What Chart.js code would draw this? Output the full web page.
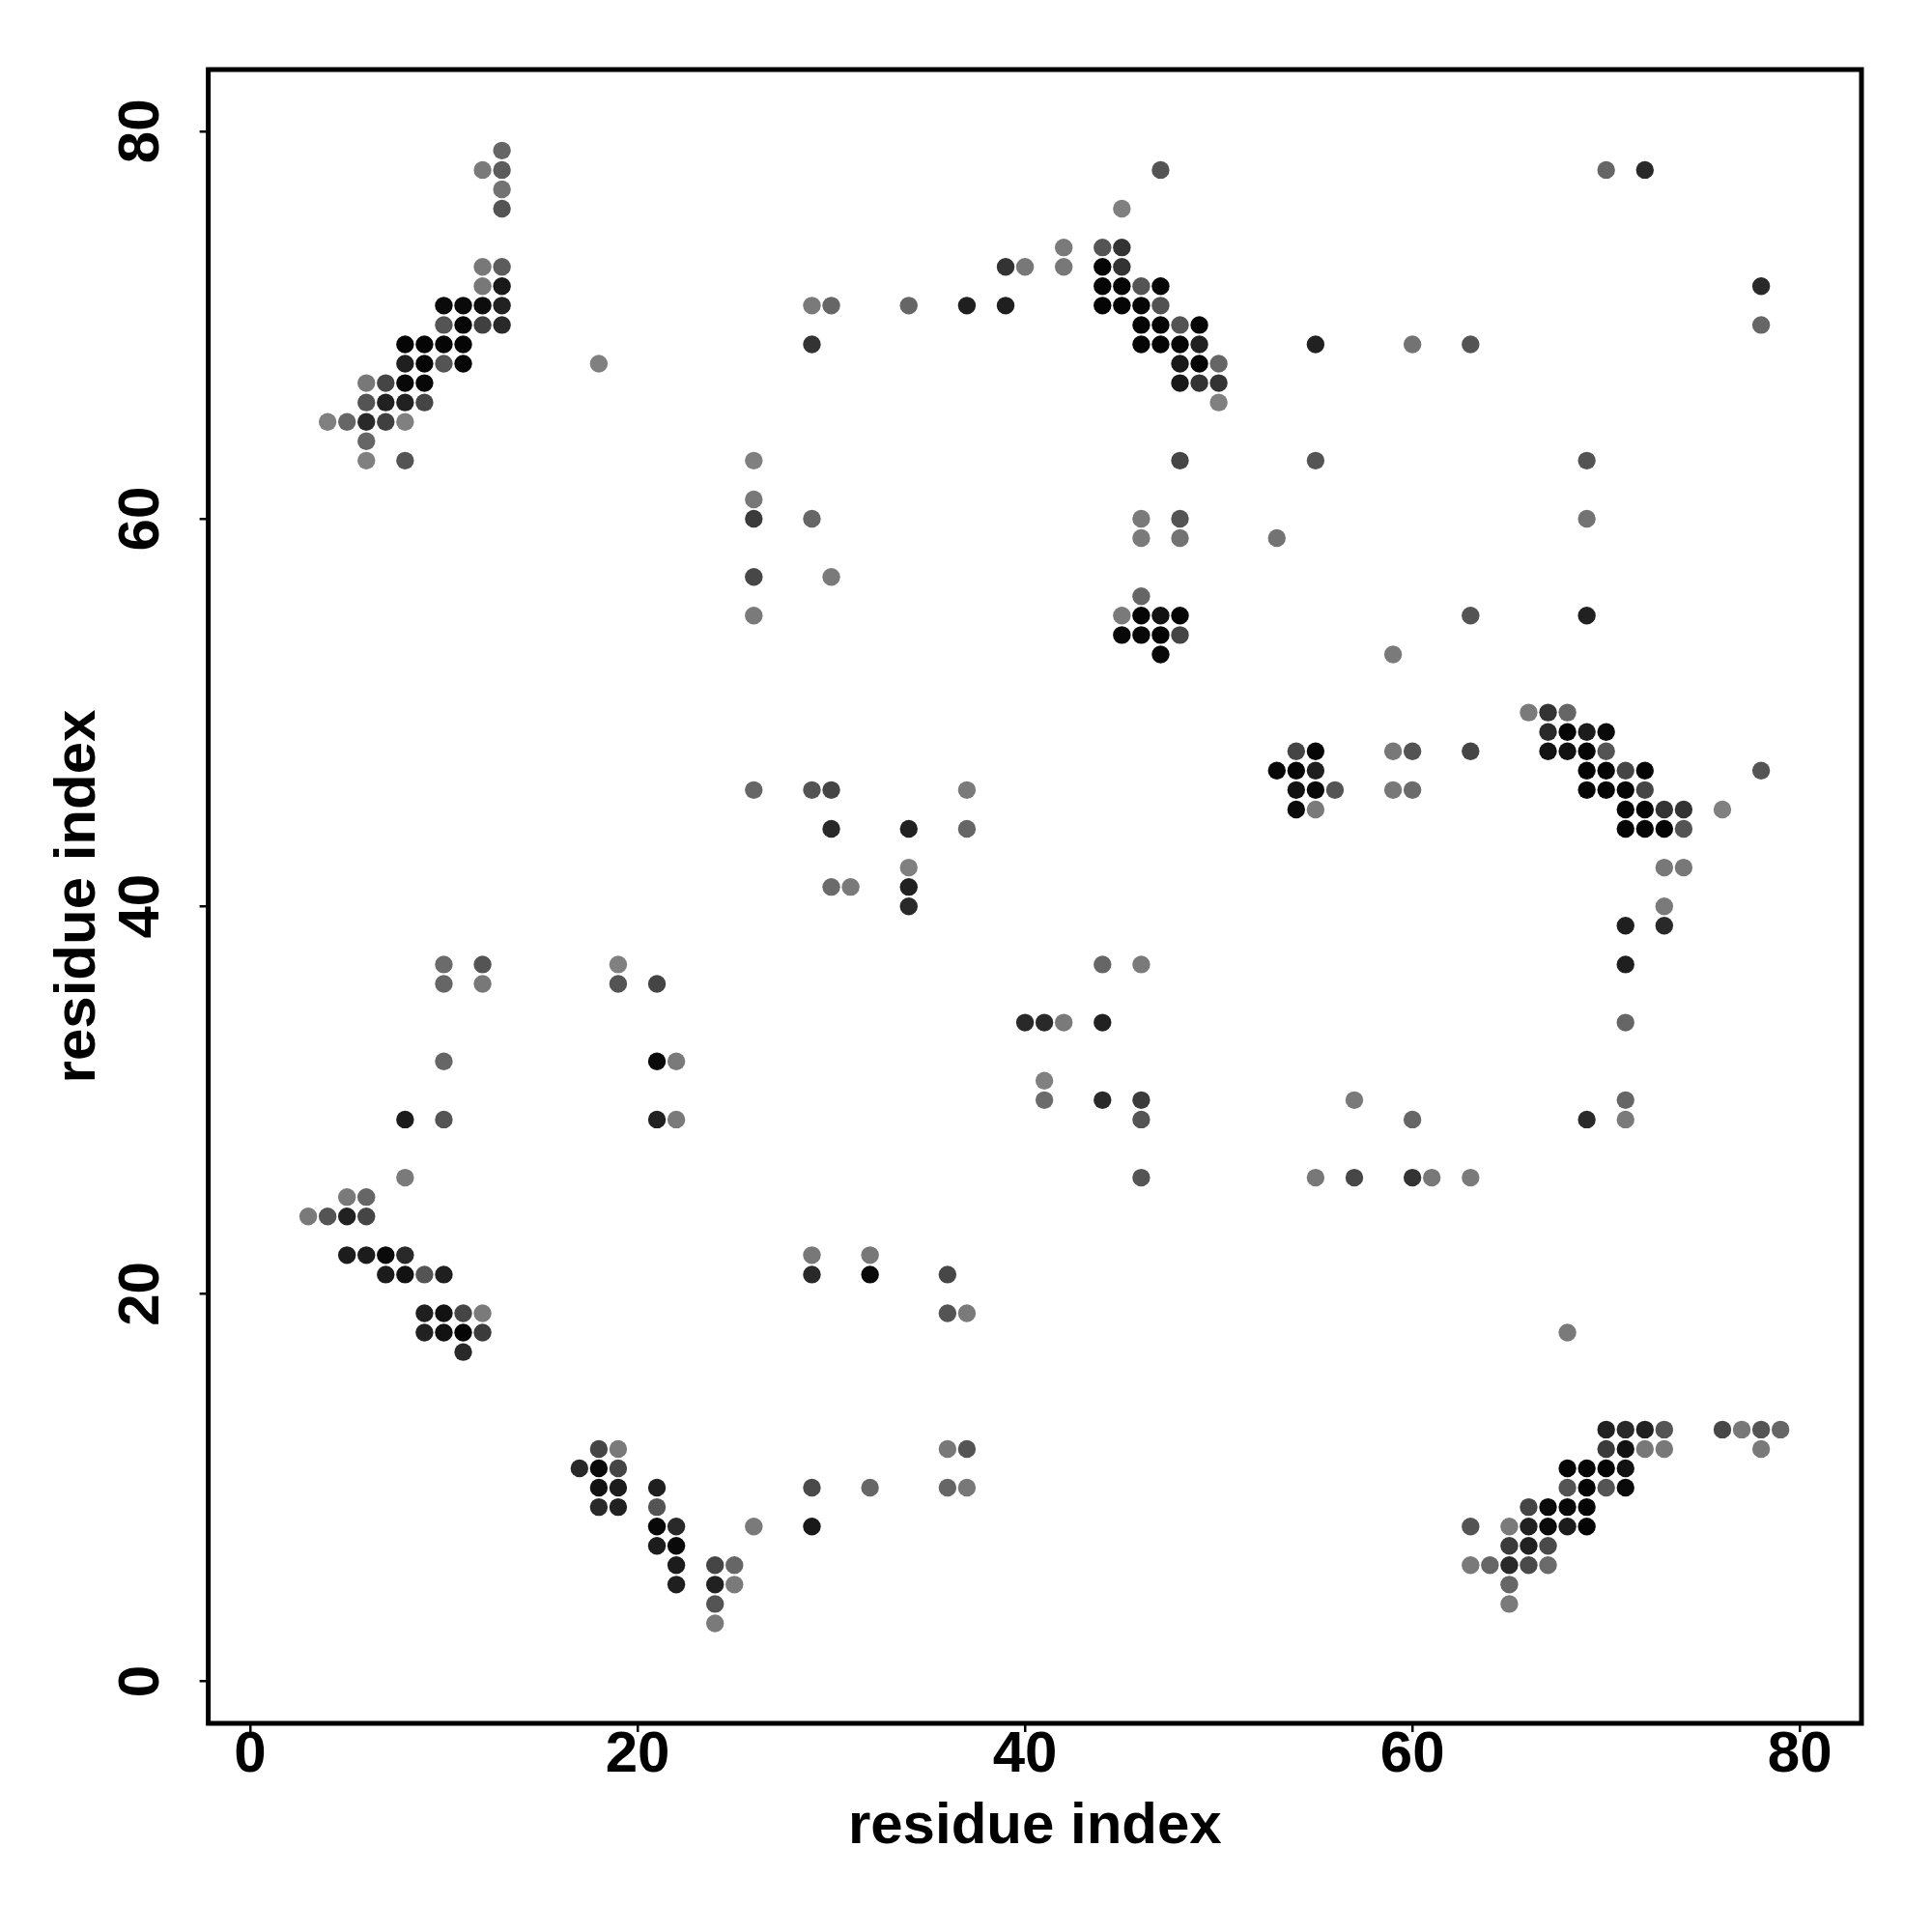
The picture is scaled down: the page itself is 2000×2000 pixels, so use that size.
<!DOCTYPE html>
<html>
<head>
<meta charset="utf-8">
<script src="https://cdn.jsdelivr.net/npm/chart.js@4"></script>
<style>
  html, body { margin: 0; padding: 0; background: #fff; }
  canvas { display: block; }
</style>
</head>
<body>
<canvas id="contactMap" width="2000" height="2000"></canvas>
<script>
// contact map: one row per residue j, listing the residues i in contact and the probability
const rowIndex = [79, 78, 77, 76, 74, 73, 72, 71, 70, 69, 68, 67, 66, 65, 64, 63, 61, 60, 59, 57, 56, 55, 54, 53,
  50, 49, 48, 47, 46, 45, 44, 42, 41, 40, 39, 37, 36, 34, 32, 31, 30, 29, 26, 25, 24, 22, 21, 19, 18, 17,
  13, 12, 11, 10, 9, 8, 7, 6, 5, 4, 3];

const rowResidues = [
  [13],
  [12, 13, 47, 70, 72],
  [13],
  [13, 45],
  [42, 44, 45],
  [12, 13, 39, 40, 42, 44, 45],
  [12, 13, 44, 45, 46, 47, 78],
  [10, 11, 12, 13, 29, 30, 34, 37, 39, 44, 45, 46, 47],
  [10, 11, 12, 13, 46, 47, 48, 49, 78],
  [8, 9, 10, 11, 29, 46, 47, 48, 49, 55, 60, 63],
  [8, 9, 10, 11, 18, 48, 49, 50],
  [6, 7, 8, 9, 48, 49, 50],
  [6, 7, 8, 9, 50],
  [4, 5, 6, 7, 8],
  [6],
  [6, 8, 26, 48, 55, 69],
  [26],
  [26, 29, 46, 48, 69],
  [46, 48, 53],
  [26, 30],
  [46],
  [26, 45, 46, 47, 48, 63, 69],
  [45, 46, 47, 48],
  [47, 59],
  [66, 67, 68],
  [67, 68, 69, 70],
  [54, 55, 59, 60, 63, 67, 68, 69, 70],
  [53, 54, 55, 69, 70, 71, 72, 78],
  [26, 29, 30, 37, 54, 55, 56, 59, 60, 69, 70, 71, 72],
  [54, 55, 71, 72, 73, 74, 76],
  [30, 34, 37, 71, 72, 73, 74],
  [34, 73, 74],
  [30, 31, 34],
  [34, 73],
  [71, 73],
  [10, 12, 19, 44, 46, 71],
  [10, 12, 19, 21],
  [40, 41, 42, 44, 71],
  [10, 21, 22],
  [41],
  [41, 44, 46, 57, 71],
  [8, 10, 21, 22, 46, 60, 69, 71],
  [8, 46, 55, 57, 60, 61, 63],
  [5, 6],
  [3, 4, 5, 6],
  [5, 6, 7, 8, 29, 32],
  [7, 8, 9, 10, 29, 32, 36],
  [9, 10, 11, 12, 36, 37],
  [9, 10, 11, 12, 68],
  [11],
  [70, 71, 72, 73, 76, 77, 78, 79],
  [18, 19, 36, 37, 70, 71, 72, 73, 78],
  [17, 18, 19, 68, 69, 70, 71],
  [18, 19, 21, 29, 32, 36, 37, 68, 69, 70, 71],
  [18, 19, 21, 66, 67, 68, 69],
  [21, 22, 26, 29, 63, 65, 66, 67, 68, 69],
  [21, 22, 65, 66, 67],
  [22, 24, 25, 63, 64, 65, 66, 67],
  [22, 24, 25, 65],
  [24, 65],
  [24]
];

const rowProbs = [
  [0.60],
  [0.52, 0.64, 0.67, 0.60, 0.84],
  [0.55],
  [0.67, 0.50],
  [0.52, 0.67, 0.80],
  [0.53, 0.64, 0.80, 0.53, 0.53, 0.98, 0.80],
  [0.53, 0.90, 0.98, 0.98, 0.67, 0.98, 0.84],
  [0.96, 0.96, 0.95, 0.87, 0.52, 0.60, 0.60, 0.88, 0.88, 0.98, 0.98, 0.98, 0.68],
  [0.67, 0.98, 0.75, 0.84, 0.98, 0.98, 0.67, 0.98, 0.60],
  [0.98, 0.98, 0.98, 0.98, 0.80, 0.98, 0.98, 0.98, 0.87, 0.87, 0.55, 0.67],
  [0.88, 0.98, 0.67, 0.98, 0.50, 0.90, 0.98, 0.60],
  [0.53, 0.73, 0.97, 0.97, 0.90, 0.80, 0.80],
  [0.67, 0.87, 0.87, 0.73, 0.50],
  [0.50, 0.60, 0.84, 0.75, 0.50],
  [0.60],
  [0.50, 0.67, 0.50, 0.73, 0.67, 0.67],
  [0.53],
  [0.77, 0.60, 0.52, 0.67, 0.55],
  [0.52, 0.55, 0.55],
  [0.72, 0.52],
  [0.60],
  [0.52, 0.52, 0.98, 0.93, 0.98, 0.67, 0.87],
  [0.97, 0.97, 0.98, 0.73],
  [0.97, 0.52],
  [0.52, 0.80, 0.60],
  [0.84, 0.98, 0.89, 0.96],
  [0.73, 0.98, 0.53, 0.67, 0.73, 0.93, 0.93, 0.98, 0.67],
  [0.97, 0.98, 0.88, 0.98, 0.98, 0.73, 0.98, 0.67],
  [0.60, 0.67, 0.73, 0.52, 0.93, 0.97, 0.67, 0.53, 0.58, 0.98, 0.98, 0.98, 0.73],
  [0.96, 0.52, 0.98, 0.98, 0.80, 0.80, 0.50],
  [0.84, 0.87, 0.60, 0.98, 0.98, 0.98, 0.67],
  [0.50, 0.53, 0.53],
  [0.58, 0.52, 0.87],
  [0.84, 0.52],
  [0.88, 0.84],
  [0.58, 0.67, 0.50, 0.60, 0.52, 0.88],
  [0.60, 0.53, 0.67, 0.73],
  [0.84, 0.84, 0.52, 0.87, 0.60],
  [0.60, 0.96, 0.52],
  [0.50],
  [0.58, 0.84, 0.77, 0.52, 0.60],
  [0.89, 0.67, 0.87, 0.52, 0.67, 0.60, 0.84, 0.52],
  [0.52, 0.67, 0.53, 0.72, 0.80, 0.53, 0.52],
  [0.52, 0.60],
  [0.52, 0.67, 0.87, 0.73],
  [0.89, 0.89, 0.96, 0.84, 0.53, 0.53],
  [0.89, 0.93, 0.67, 0.88, 0.84, 0.96, 0.72],
  [0.88, 0.93, 0.73, 0.52, 0.67, 0.52],
  [0.87, 0.93, 0.98, 0.77, 0.52],
  [0.84],
  [0.87, 0.84, 0.87, 0.67, 0.72, 0.53, 0.67, 0.60],
  [0.73, 0.52, 0.53, 0.67, 0.77, 0.93, 0.53, 0.53, 0.52],
  [0.84, 0.96, 0.73, 0.98, 0.98, 0.98, 0.93],
  [0.93, 0.89, 0.88, 0.71, 0.60, 0.60, 0.53, 0.67, 0.98, 0.67, 0.96],
  [0.84, 0.87, 0.67, 0.73, 0.96, 0.97, 0.98],
  [0.97, 0.84, 0.52, 0.90, 0.67, 0.52, 0.87, 0.96, 0.89, 0.98],
  [0.89, 0.96, 0.77, 0.87, 0.71],
  [0.89, 0.73, 0.60, 0.52, 0.60, 0.84, 0.71, 0.58],
  [0.88, 0.87, 0.52, 0.60],
  [0.67, 0.52],
  [0.52]
];

const tickValues = [0, 20, 40, 60, 80];
const axisTitle = 'residue index';

// flatten the rows into scatter points, shade = grey(1 - p)
const points = [];
const shades = [];
rowIndex.forEach((j, r) => {
  rowResidues[r].forEach((i, k) => {
    points.push({x: i, y: j});
    const g = Math.round(255 * (1 - rowProbs[r][k]));
    shades.push('rgb(' + g + ',' + g + ',' + g + ')');
  });
});

// frame round the plotting region
const boxPlugin = {
  id: 'box',
  beforeDatasetsDraw(chart) {
    const {ctx, chartArea: a} = chart;
    ctx.save();
    ctx.lineWidth = 5;
    ctx.strokeStyle = '#000';
    ctx.strokeRect(a.left, a.top, a.right - a.left, a.bottom - a.top);
    ctx.restore();
  }
};

Chart.defaults.font.family = "'Liberation Sans', Arial, sans-serif";
Chart.defaults.color = '#000';

const bold60 = {size: 60, weight: 'bold', lineHeight: 1.2};

new Chart(document.getElementById('contactMap'), {
  type: 'scatter',
  data: {
    datasets: [{
      data: points,
      pointBackgroundColor: shades,
      pointBorderWidth: 0,
      pointRadius: 9.2,
      pointHoverRadius: 9.2
    }]
  },
  options: {
    responsive: false,
    animation: false,
    devicePixelRatio: 1,
    layout: {padding: {left: 0, top: 72, right: 73, bottom: 0}},
    plugins: {legend: {display: false}, tooltip: {enabled: false}},
    scales: {
      x: {
        type: 'linear',
        min: -2.16,
        max: 83.18,
        afterFit: s => { s.height = 216; },
        afterBuildTicks: s => { s.ticks = tickValues.map(v => ({value: v})); },
        grid: {drawOnChartArea: false, drawTicks: true, tickLength: 9, color: '#000', lineWidth: 2.5},
        border: {display: false},
        ticks: {font: bold60, padding: -11.5, minRotation: 0, maxRotation: 0},
        title: {display: true, text: axisTitle, font: bold60, padding: {top: 0, bottom: 73}}
      },
      y: {
        type: 'linear',
        min: -2.16,
        max: 83.18,
        afterFit: s => { s.width = 215.6; },
        afterBuildTicks: s => { s.ticks = tickValues.map(v => ({value: v})); },
        grid: {drawOnChartArea: false, drawTicks: true, tickLength: 9, color: '#000', lineWidth: 2.5},
        border: {display: false},
        ticks: {font: bold60, padding: 25.6, minRotation: 90, maxRotation: 90, crossAlign: 'center'},
        title: {display: true, text: axisTitle, font: bold60, padding: {top: 45, bottom: 0}}
      }
    }
  },
  plugins: [boxPlugin]
});
</script>
</body>
</html>
